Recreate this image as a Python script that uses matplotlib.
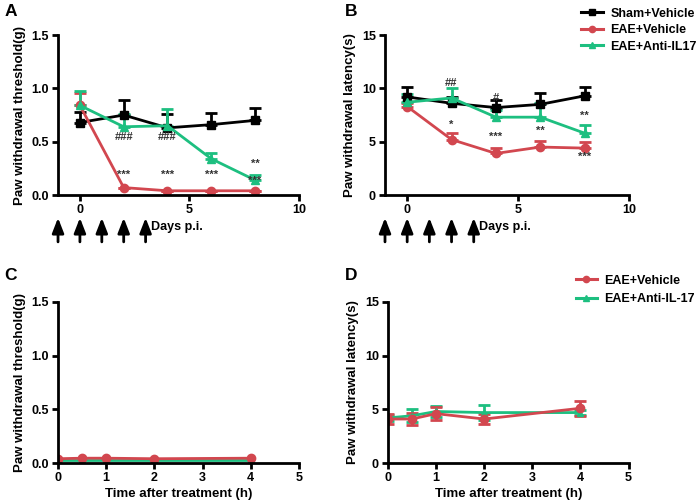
import matplotlib
matplotlib.use("Agg")
import matplotlib.pyplot as plt
from matplotlib.lines import Line2D
import numpy as np

plt.rcParams['font.family'] = ['Liberation Sans', 'DejaVu Sans']
plt.rcParams['font.weight'] = 'bold'

RED = '#d2474f'
GREEN = '#1dbf80'
BLACK = '#000000'

# Panel A: paw withdrawal threshold (g), days p.i.
days = [0, 2, 4, 6, 8]
a_sham = [0.68, 0.75, 0.63, 0.66, 0.70]
a_sham_err = [0.10, 0.14, 0.13, 0.11, 0.12]
a_veh = [0.84, 0.07, 0.04, 0.04, 0.04]
a_veh_err = [0.12, 0.0, 0.0, 0.0, 0.0]
a_anti = [0.84, 0.64, 0.65, 0.34, 0.14]
a_anti_err = [0.14, 0.12, 0.16, 0.05, 0.05]

# Panel B: paw withdrawal latency (s), days p.i.
b_sham = [9.2, 8.6, 8.2, 8.5, 9.3]
b_sham_err = [0.9, 0.6, 0.7, 1.1, 0.8]
b_veh = [8.3, 5.2, 3.9, 4.5, 4.4]
b_veh_err = [0.3, 0.6, 0.5, 0.6, 0.6]
b_anti = [8.7, 9.1, 7.3, 7.3, 5.8]
b_anti_err = [0.8, 0.9, 0.7, 1.3, 0.8]

# Panel C / D: time after treatment (h)
hours = [0, 0.5, 1, 2, 4]
c_veh = [0.04, 0.045, 0.045, 0.04, 0.045]
c_anti = [0.03, 0.03, 0.03, 0.03, 0.03]
d_veh = [4.1, 4.1, 4.6, 4.1, 5.1]
d_veh_err = [0.5, 0.6, 0.6, 0.5, 0.7]
d_anti = [4.2, 4.4, 4.8, 4.7, 4.7]
d_anti_err = [0.3, 0.6, 0.5, 0.7, 0.2]

# significance marks
a_marks = [(2, 0.54, '###'), (4, 0.54, '###'), (2, 0.19, '***'), (4, 0.19, '***'),
           (6, 0.19, '***'), (8, 0.29, '**'), (8, 0.13, '***')]
b_marks = [(2, 10.5, '##'), (4, 9.1, '#'), (2, 6.6, '*'), (4, 5.5, '***'),
           (6, 6.0, '**'), (8, 7.4, '**'), (8, 3.6, '***')]
arrow_days = [-1, 0, 1, 2, 3]

fig = plt.figure(figsize=(7, 5.04), dpi=100)
axA = fig.add_axes([0.0829, 0.613, 0.344, 0.3175])
axB = fig.add_axes([0.550, 0.613, 0.3486, 0.3175])
axC = fig.add_axes([0.0829, 0.0813, 0.344, 0.3195])
axD = fig.add_axes([0.554, 0.0813, 0.344, 0.3195])


def style(ax):
    for s in ['top', 'right']:
        ax.spines[s].set_visible(False)
    for s in ['left', 'bottom']:
        ax.spines[s].set_linewidth(2)
    ax.tick_params(width=2, length=4, labelsize=9, pad=2.5)
    for lab in ax.get_xticklabels() + ax.get_yticklabels():
        lab.set_fontweight('bold')


def series(ax, x, y, err, color, marker, label, both=False, ms=6):
    if err is None:
        ax.plot(x, y, color=color, marker=marker, ms=ms, lw=2, label=label)
        return
    yerr = [err, err] if both else [np.zeros(len(err)), err]
    ax.errorbar(x, y, yerr=yerr, color=color, marker=marker, ms=ms, lw=2,
                elinewidth=2, capsize=4, capthick=2, label=label)


def legend(ax, entries, x, y, spacing=0.35):
    handles = [Line2D([], [], color=c, marker=m, ms=4.5, lw=2.2) for c, m, _ in entries]
    labels = [t for _, _, t in entries]
    ax.legend(handles, labels, loc='upper left', bbox_to_anchor=(x, y), frameon=False,
              handlelength=1.7, handletextpad=0.6, labelspacing=spacing,
              borderpad=0, borderaxespad=0, prop={'weight': 'bold', 'size': 9})


# A
series(axA, days, a_sham, a_sham_err, BLACK, 's', 'Sham+Vehicle')
series(axA, days, a_veh, a_veh_err, RED, 'o', 'EAE+Vehicle')
series(axA, days, a_anti, a_anti_err, GREEN, '^', 'EAE+Anti-IL17')
axA.set_xlim(-1, 10)
axA.set_ylim(0, 1.5)
axA.set_xticks([0, 5, 10])
axA.set_yticks([0, 0.5, 1.0, 1.5])
axA.set_yticklabels(['0.0', '0.5', '1.0', '1.5'])
axA.set_ylabel('Paw withdrawal threshold(g)', fontsize=9.5, fontweight='bold')
for x, y, t in a_marks:
    axA.text(x, y, t, ha='center', va='center', fontsize=8, color='#333333')

# B
series(axB, days, b_sham, b_sham_err, BLACK, 's', 'Sham+Vehicle')
series(axB, days, b_veh, b_veh_err, RED, 'o', 'EAE+Vehicle')
series(axB, days, b_anti, b_anti_err, GREEN, '^', 'EAE+Anti-IL17')
axB.set_xlim(-1, 10)
axB.set_ylim(0, 15)
axB.set_xticks([0, 5, 10])
axB.set_yticks([0, 5, 10, 15])
axB.set_ylabel('Paw withdrawal latency(s)', fontsize=9.5, fontweight='bold')
for x, y, t in b_marks:
    axB.text(x, y, t, ha='center', va='center', fontsize=8, color='#333333')
legend(axB, [(BLACK, 's', 'Sham+Vehicle'), (RED, 'o', 'EAE+Vehicle'),
             (GREEN, '^', 'EAE+Anti-IL17')], 0.805, 1.17)

for ax in (axA, axB):
    tr = ax.get_xaxis_transform()
    for d in arrow_days:
        ax.annotate('', xy=(d, -0.125), xytext=(d, -0.31), xycoords=tr, textcoords=tr,
                    arrowprops=dict(arrowstyle='-|>,head_width=0.35,head_length=0.9',
                                    color='black', lw=2), annotation_clip=False)
    ax.text(3.25, -0.2, 'Days p.i.', transform=tr, ha='left', va='center',
            fontsize=9, fontweight='bold')

# C
series(axC, hours, c_anti, None, GREEN, '^', 'EAE+Anti-IL-17', ms=4)
series(axC, hours, c_veh, None, RED, 'o', 'EAE+Vehicle')
axC.set_xlim(0, 5)
axC.set_ylim(0, 1.5)
axC.set_xticks([0, 1, 2, 3, 4, 5])
axC.set_yticks([0, 0.5, 1.0, 1.5])
axC.set_yticklabels(['0.0', '0.5', '1.0', '1.5'])
axC.set_ylabel('Paw withdrawal threshold(g)', fontsize=9.5, fontweight='bold')
axC.set_xlabel('Time after treatment (h)', fontsize=9.5, fontweight='bold', labelpad=3)

# D
series(axD, hours, d_anti, d_anti_err, GREEN, '^', 'EAE+Anti-IL-17', both=True, ms=4)
series(axD, hours, d_veh, d_veh_err, RED, 'o', 'EAE+Vehicle', both=True)
axD.set_xlim(0, 5)
axD.set_ylim(0, 15)
axD.set_xticks([0, 1, 2, 3, 4, 5])
axD.set_yticks([0, 5, 10, 15])
axD.set_ylabel('Paw withdrawal latency(s)', fontsize=9.5, fontweight='bold')
axD.set_xlabel('Time after treatment (h)', fontsize=9.5, fontweight='bold', labelpad=3)
legend(axD, [(RED, 'o', 'EAE+Vehicle'), (GREEN, '^', 'EAE+Anti-IL-17')], 0.78, 1.17,
       spacing=0.55)

for ax in (axA, axB, axC, axD):
    style(ax)

for lbl, x, y in [('A', 0.006, 0.992), ('B', 0.492, 0.992), ('C', 0.006, 0.468), ('D', 0.492, 0.468)]:
    fig.text(x, y, lbl, fontsize=12.5, fontweight='bold', va='top', ha='left')

fig.savefig('out.png', dpi=100)
